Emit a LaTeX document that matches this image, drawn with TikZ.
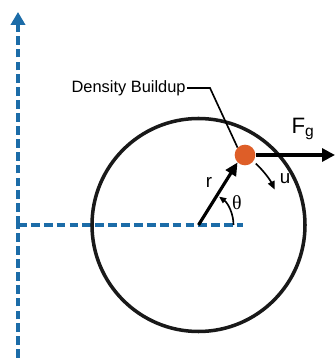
\documentclass[tikz,border=0pt]{standalone}
\usepackage{fontspec}
\setmainfont{Liberation Sans}
\newfontfamily\greekfont{Liberation Serif}
\usepackage{tikz}
\usetikzlibrary{arrows.meta}

\definecolor{axisblue}{RGB}{28,108,168}
\definecolor{buildup}{RGB}{222,94,40}

\tikzset{
  axis/.style={axisblue, line width=2.7pt, dash pattern=on 7.5pt off 3.5pt},
  force/.style={line width=2.7pt, -{Triangle[length=11pt,width=11pt]}},
  lbl/.style={inner sep=1pt, font=\fontsize{14}{16}\selectfont}
}

\begin{document}
\begin{tikzpicture}[x=0.03cm,y=0.03cm]
			\useasboundingbox (0,0) rectangle (335,358);
			% axes
			\coordinate (origin) at (18,133);
			\coordinate (ybottom) at (18,0);
			\coordinate (ytop) at (18,346);
			\coordinate (xend) at (243,133);
			\coordinate (center) at (198.5,133);
			\draw [axis] (ybottom) -- (origin);
			\draw [axis, -{Triangle[length=11pt,width=12pt]}] (origin) -- (ytop);
			\draw [axis] (origin) -- (xend);
			
			% orbit
			\draw [line width=3pt, black!90] (center) circle (3.195cm);
			
			% density buildup
			\node [circle, fill=buildup, minimum size=0.62cm, inner sep=0pt] (blob) at (245,203) {};
			\node [lbl, anchor=east] (dens) at (187,270) {Density Buildup};
			\coordinate (bend) at (210,270);
			\draw [line width=1.4pt] (dens.east) -- (bend) -- (blob.north west);
			
			% force and radius
			\coordinate (ftip) at (335,203);
			\draw [force] (blob.east) -- (ftip);
			\node [lbl, font=\fontsize{19}{21}\selectfont] (fg) at (303,229) {F\textsubscript{g}};
			\draw [force, -{Triangle[length=11pt,width=10pt]}] (center) -- (blob.south west);
			\node [lbl, font=\fontsize{16}{18}\selectfont] (rlab) at (209,176) {r};
			
			% angle and rotation
			\draw [line width=1.4pt, -{Triangle[length=6pt,width=5pt]}] ([shift={(0:35)}]center) arc (0:54:35);
			\node [lbl, font=\fontsize{17}{19}\greekfont] (thlab) at (237,155) {θ};
			\draw [line width=1.4pt, -{Triangle[length=7pt,width=6pt]}] ([shift={(47:84)}]center) arc (47:25:84);
			\node [lbl, font=\fontsize{16}{18}\selectfont] (ulab) at (285,179) {u};
		\end{tikzpicture}
\end{document}
